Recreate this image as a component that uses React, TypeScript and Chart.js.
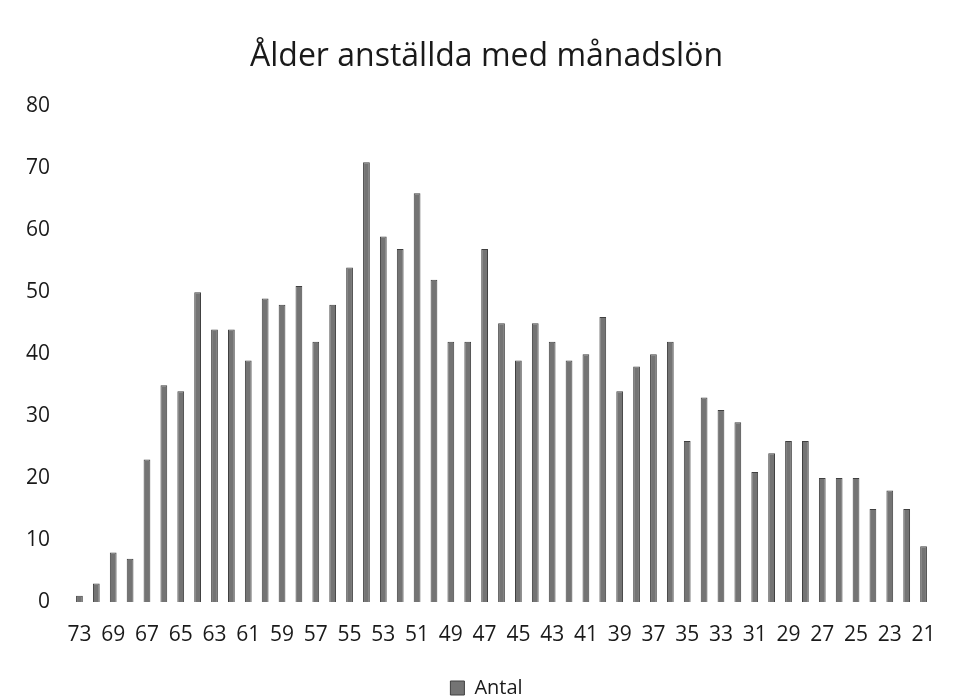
import React, { useEffect, useRef } from "react";
import { Chart, registerables } from "chart.js";

Chart.register(...registerables);

const TITLE = "Ålder anställda med månadslön";
const SERIES_NAME = "Antal";
const AGES = [
  "73", "70", "69", "68", "67", "66", "65", "64", "63", "62", "61", "60", "59", "58", "57", "56", "55",
  "54", "53", "52", "51", "50", "49", "48", "47", "46", "45", "44", "43", "42", "41", "40", "39", "38",
  "37", "36", "35", "34", "33", "32", "31", "30", "29", "28", "27", "26", "25", "24", "23", "22", "21",
];
const COUNTS = [
  1, 3, 8, 7, 23, 35, 34, 50, 44, 44, 39, 49, 48, 51, 42, 48, 54,
  71, 59, 57, 66, 52, 42, 42, 57, 45, 39, 45, 42, 39, 40, 46, 34, 38,
  40, 42, 26, 33, 31, 29, 21, 24, 26, 26, 20, 20, 20, 15, 18, 15, 9,
];
const Y_MIN = 0;
const Y_MAX = 80;
const Y_STEP = 10;

const FONT = "'Open Sans', 'Noto Sans', sans-serif";

export default function App() {
  const ref = useRef<HTMLCanvasElement | null>(null);

  useEffect(() => {
    const canvas = ref.current;
    if (!canvas) return;
    const chart = new Chart(canvas, {
      type: "bar",
      data: {
        labels: AGES,
        datasets: [
          {
            label: SERIES_NAME,
            data: COUNTS,
            backgroundColor: "#747474",
            borderColor: "#404040",
            borderWidth: 1,
            barPercentage: 0.4,
            categoryPercentage: 1,
          },
        ],
      },
      options: {
        responsive: false,
        animation: false,
        layout: { padding: { left: 20, right: 7, top: 0, bottom: -10 } },
        plugins: {
          title: {
            display: true,
            text: TITLE,
            color: "#1a1a1a",
            font: { family: FONT, size: 32, weight: "normal" },
            padding: { top: 38, bottom: 30 },
          },
          legend: {
            display: true,
            position: "bottom",
            labels: {
              color: "#1a1a1a",
              font: { family: FONT, size: 20 },
              boxWidth: 14,
              boxHeight: 14,
              padding: 0,
            },
          },
          tooltip: { enabled: false },
        },
        scales: {
          x: {
            grid: { display: false, drawTicks: false },
            border: { display: false },
            ticks: {
              color: "#1a1a1a",
              font: { family: FONT, size: 21 },
              padding: 20,
              autoSkip: false,
              maxRotation: 0,
              minRotation: 0,
              callback: (_v: any, i: number) => (i % 2 === 0 ? AGES[i] : ""),
            },
            afterFit: (s: any) => {
              s.height = 76;
            },
          },
          y: {
            min: Y_MIN,
            max: Y_MAX,
            grid: { display: false, drawTicks: false },
            border: { display: false },
            ticks: {
              stepSize: Y_STEP,
              color: "#1a1a1a",
              font: { family: FONT, size: 21 },
              padding: 21,
            },
            afterFit: (s: any) => {
              s.width = 51;
            },
          },
          ySpacer: {
            type: "linear",
            position: "right",
            min: Y_MIN,
            max: Y_MAX,
            grid: { display: false, drawTicks: false },
            border: { display: false },
            ticks: { display: false },
            afterFit: (s: any) => {
              s.width = 21;
            },
          },
        },
      },
    });
    return () => chart.destroy();
  }, []);

  return (
    <div style={{ position: "absolute", left: 0, top: 0, width: 960, height: 698, background: "#fff" }}>
      <canvas ref={ref} width={960} height={698} />
    </div>
  );
}
